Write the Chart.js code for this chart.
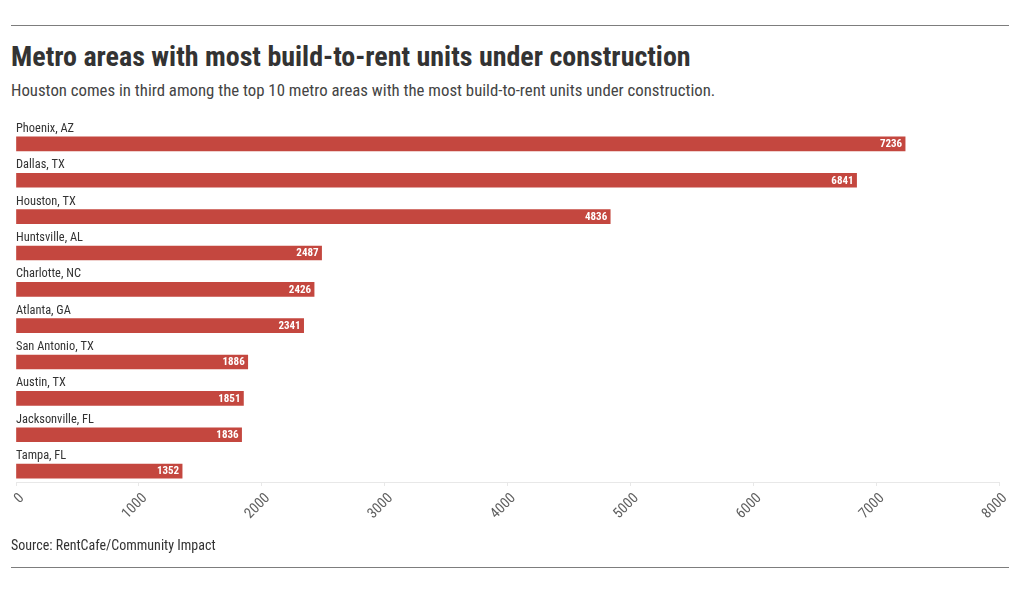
<!DOCTYPE html>
<html><head><meta charset="utf-8">
<script src="https://cdn.jsdelivr.net/npm/chart.js@4.4.1/dist/chart.umd.min.js"></script>
<style>
html,body{margin:0;padding:0;background:#fff;}
body{width:1020px;height:593px;position:relative;overflow:hidden;font-family:"Roboto Condensed","Liberation Sans Narrow","DejaVu Sans Condensed",Roboto,sans-serif;}
.rule{position:absolute;left:11px;width:998px;height:1px;background:#7d7d7d;}
#title{position:absolute;left:11px;top:40px;font-size:28px;line-height:34px;font-weight:700;color:#333;white-space:nowrap;}
#subtitle{position:absolute;left:11px;top:80px;font-size:16.8px;line-height:20px;color:#444;white-space:nowrap;}
#source{position:absolute;left:11px;top:536px;font-size:14px;line-height:18px;color:#333;white-space:nowrap;}
#wrap{position:absolute;left:0;top:100px;width:1020px;height:440px;}
</style>
</head><body>
<div class="rule" style="top:25px"></div>
<div id="title">Metro areas with most build-to-rent units under construction</div>
<div id="subtitle">Houston comes in third among the top 10 metro areas with the most build-to-rent units under construction.</div>
<div id="wrap"><canvas id="c"></canvas></div>
<div id="source">Source: RentCafe/Community Impact</div>
<div class="rule" style="top:567px"></div>
<script>
const categories = ["Phoenix, AZ","Dallas, TX","Houston, TX","Huntsville, AL","Charlotte, NC","Atlanta, GA","San Antonio, TX","Austin, TX","Jacksonville, FL","Tampa, FL"];
const units = [7236,6841,4836,2487,2426,2341,1886,1851,1836,1352];
const xTicks = [0,1000,2000,3000,4000,5000,6000,7000,8000];

const FONT = '"Roboto Condensed","Liberation Sans Narrow","DejaVu Sans Condensed",Roboto,sans-serif';
const BAR = '#c4473f';

const labelPlugin = {
  id: 'rowLabels',
  afterDatasetsDraw(chart) {
    const ctx = chart.ctx;
    const meta = chart.getDatasetMeta(0);
    ctx.save();
    meta.data.forEach((bar, i) => {
      const x0 = chart.scales.x.getPixelForValue(0);
      ctx.font = '12.4px ' + FONT;
      ctx.fillStyle = '#333';
      ctx.textAlign = 'left';
      ctx.textBaseline = 'middle';
      ctx.fillText(categories[i], x0, bar.y - 15);
      ctx.font = 'bold 11px ' + FONT;
      ctx.fillStyle = '#fff';
      ctx.textAlign = 'right';
      ctx.fillText(String(units[i]), bar.x - 3, bar.y + 0.5);
    });
    ctx.restore();
  }
};

new Chart(document.getElementById('c'), {
  type: 'bar',
  data: {
    datasets: [{
      data: units.map((v, i) => ({x: v, y: i})),
      backgroundColor: BAR,
      borderWidth: 0,
      barThickness: 14
    }]
  },
  options: {
    indexAxis: 'y',
    responsive: true,
    maintainAspectRatio: false,
    animation: false,
    layout: {padding: {left: 16, right: 21, top: 21, bottom: 0}},
    plugins: {legend: {display: false}, tooltip: {enabled: false}},
    scales: {
      y: {
        type: 'linear',
        display: false,
        offset: false,
        grid: {offset: false},
        bounds: 'data',
        grace: 0,
        reverse: true,
        min: -0.63,
        max: 9.3
      },
      x: {
        type: 'linear',
        min: 0,
        max: 8000,
        afterBuildTicks(scale) { scale.ticks = xTicks.map(v => ({value: v})); },
        afterFit(scale) { scale.height = 58; },
        grid: {display: true, drawOnChartArea: false, drawTicks: true, tickLength: 4, color: '#e8e8e8'},
        border: {display: true, color: '#e8e8e8'},
        ticks: {
          minRotation: 45, maxRotation: 45, padding: 4, labelOffset: 6,
          color: '#606060',
          font: {family: FONT, size: 14.5},
          callback: v => String(v)
        }
      }
    }
  },
  plugins: [labelPlugin]
});
</script>
</body></html>
